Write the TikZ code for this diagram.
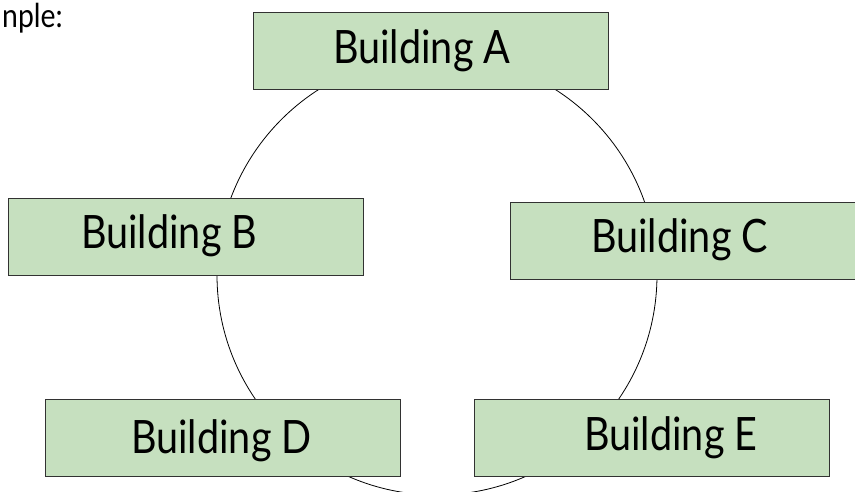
\documentclass[tikz,border=0pt]{standalone}
\usepackage{fontspec}
\setmainfont[FakeStretch=0.86]{Lato}
\usetikzlibrary{positioning}
\definecolor{boxgreen}{RGB}{198,224,191}
\definecolor{boxedge}{RGB}{50,50,50}
\tikzset{building/.style={draw=boxedge, fill=boxgreen, line width=1pt,
    minimum width=355pt, minimum height=77pt, inner sep=0pt}}
\tikzset{bname/.style={font=\fontsize{46}{50}\selectfont, inner sep=0pt,
    anchor=base west}}

\begin{document}
\begin{tikzpicture}[x=1pt, y=-1pt]
    \useasboundingbox (0, 0) rectangle (855, 491);

    %naslov
    \node[font=\fontsize{33}{36}\selectfont, inner sep=0pt, anchor=base west]
        (naslov) at (2, 27) {nple:};

    %krug
    \draw[line width=0.8pt] (437, 275) circle (220pt);

    %zgrade
    \node[building] (a) at (430.5, 50.5) {};
    \node[building] (b) at (185.5, 236.5) {};
    \node[building] (c) at (687.5, 240.5) {};
    \node[building] (d) at (222.5, 437.5) {};
    \node[building] (e) at (651.5, 437.5) {};

    %nazivi
    \node[bname] (ta) at (333, 63) {Building A};
    \node[bname] (tb) at (81, 248) {Building B};
    \node[bname] (tc) at (591, 252) {Building C};
    \node[bname] (td) at (131, 453) {Building D};
    \node[bname] (te) at (584, 450) {Building E};
\end{tikzpicture}
\end{document}
